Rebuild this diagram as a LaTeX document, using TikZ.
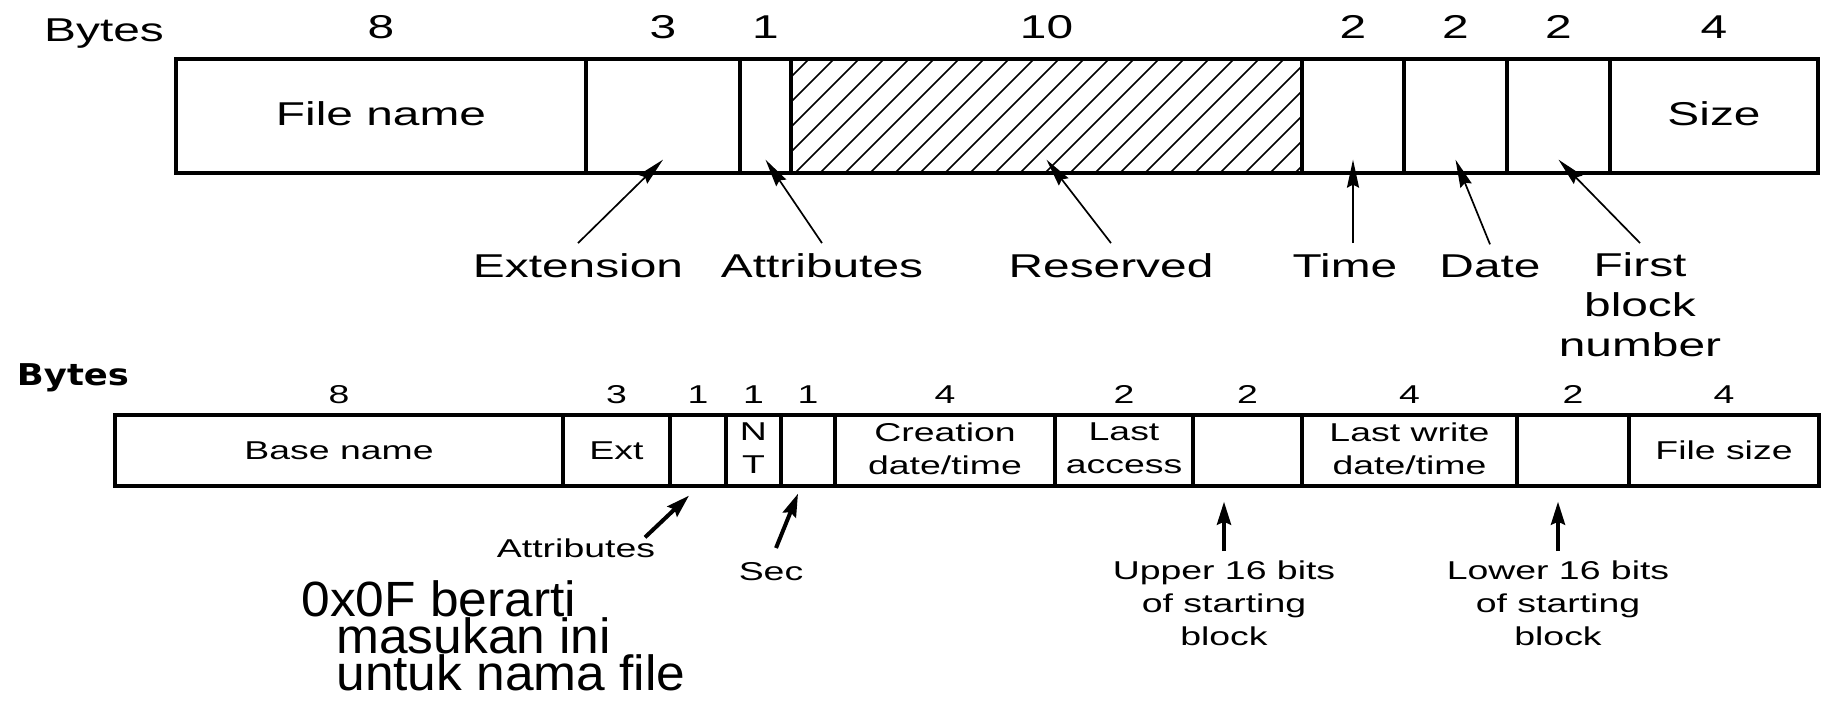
\documentclass[tikz,border=0pt]{standalone}
\usepackage{fontspec}
\setmainfont{Liberation Sans}[FakeStretch=1.04]
\newfontfamily\widesans{Liberation Sans}[FakeStretch=1.45]
\newfontfamily\heavysans{DejaVu Sans}[FakeStretch=1.18]
\usetikzlibrary{arrows.meta,fit,calc}

% lets lines sit closer than their letters are tall
\newcommand\tightlines{\lineskiplimit=-20pt\relax}

\tikzset{
  field/.style={draw,line width=1.65pt,inner sep=0pt},
  bigtext/.style={font=\widesans\fontsize{16.5}{20}\selectfont,inner sep=0pt},
  smalltext/.style={font=\widesans\fontsize{12.9}{16.5}\selectfont,align=center,inner sep=0pt},
  callout/.style={inner sep=0pt,outer sep=5pt,align=center},
  thinarrow/.style={line width=0.85pt,-{Stealth[length=14pt,width=6pt,inset=1.5pt]}},
  thickarrow/.style={line width=2pt,-{Stealth[length=11.5pt,width=7pt,inset=1.5pt]}}
}

\begin{document}
\begin{tikzpicture}[x=0.5pt,y=-0.5pt]
\useasboundingbox (0,0) rectangle (1822,714);

% hatching of the reserved bytes
\begin{scope}
  \clip (791,59) rectangle (1302,173);
  \foreach \x in {670,695,...,1300}
    \draw[line width=0.75pt] (\x,173) -- ++(114,-114);
\end{scope}

% MS-DOS entry
\node[bigtext,anchor=base] (bytes) at (104,41) {Bytes};
\node[field,fit={(176,59) (586,173)}] (fname) {};
\node[field,fit={(586,59) (740,173)}] (ext) {};
\node[field,fit={(740,59) (791,173)}] (attr) {};
\node[field,fit={(791,59) (1302,173)}] (resv) {};
\node[field,fit={(1302,59) (1404,173)}] (time) {};
\node[field,fit={(1404,59) (1507,173)}] (date) {};
\node[field,fit={(1507,59) (1610,173)}] (first) {};
\node[field,fit={(1610,59) (1818,173)}] (size) {};
\node[bigtext] (fnametxt) at ($(fname)+(0,-2)$) {File name};
\node[bigtext] (sizetxt) at ($(size)+(0,-2)$) {Size};

\foreach \fld/\n in {fname/8,ext/3,attr/1,resv/10,time/2,date/2,first/2,size/4}
  \node[bigtext,anchor=base] at ($(\fld.north)+(0,-19)$) {\n};

\node[bigtext,callout,anchor=base] (extlbl) at (578,277) {Extension};
\node[bigtext,callout,anchor=base] (attrlbl) at (822,277) {Attributes};
\node[bigtext,callout,anchor=base] (resvlbl) at (1111,277) {Reserved};
\node[bigtext,callout,anchor=base] (timelbl) at (1345,277) {Time};
\node[bigtext,callout,anchor=base] (datelbl) at (1490,277) {Date};
\node[bigtext,callout,anchor=north] (firstlbl) at (1640,243) {First\\block\\number};

\draw[thinarrow] (extlbl.north) -- ($(ext.south)+(0,-15)$);
\draw[thinarrow] (attrlbl.north) -- ($(attr.south)+(0,-15)$);
\draw[thinarrow] (resvlbl.north) -- ($(resv.south)+(0,-15)$);
\draw[thinarrow] (timelbl.north -| time.south) -- ($(time.south)+(0,-15)$);
\draw[thinarrow] (datelbl.north) -- ($(date.south)+(0,-15)$);
\draw[thinarrow] (firstlbl.north) -- ($(first.south)+(0,-15)$);

% Windows 98 entry
\node[font=\heavysans\bfseries\fontsize{15}{18}\selectfont,anchor=base] (bytes2) at (73,385) {Bytes};
\node[field,fit={(115,415) (563,486)}] (base) {};
\node[field,fit={(563,415) (670,486)}] (ext2) {};
\node[field,fit={(670,415) (726,486)}] (attr2) {};
\node[field,fit={(726,415) (781,486)}] (nt) {};
\node[field,fit={(781,415) (835,486)}] (sec) {};
\node[field,fit={(835,415) (1055,486)}] (crea) {};
\node[field,fit={(1055,415) (1193,486)}] (acc) {};
\node[field,fit={(1193,415) (1302,486)}] (hi) {};
\node[field,fit={(1302,415) (1517,486)}] (wri) {};
\node[field,fit={(1517,415) (1629,486)}] (lo) {};
\node[field,fit={(1629,415) (1819,486)}] (fsize) {};

\node[smalltext] (basetxt) at (base) {Base name};
\node[smalltext] (ext2txt) at (ext2) {Ext};
\node[smalltext] (nttxt) at ($(nt)+(0,-2)$) {N\\T};
\node[smalltext] (creatxt) at ($(crea)+(0,-2)$) {Creation\\date/time};
\node[smalltext] (acctxt) at ($(acc)+(0,-2)$) {Last\\access};
\node[smalltext] (writxt) at ($(wri)+(0,-2)$) {Last write\\date/time};
\node[smalltext] (fsizetxt) at (fsize) {File size};

\foreach \fld/\n in {base/8,ext2/3,attr2/1,nt/1,sec/1,crea/4,acc/2,hi/2,wri/4,lo/2,fsize/4}
  \node[smalltext,anchor=base] at ($(\fld.north)+(0,-10)$) {\n};

\node[smalltext,callout,anchor=base] (attr2lbl) at (576,557) {Attributes};
\node[smalltext,callout,anchor=base] (seclbl) at (771,580) {Sec};
\node[smalltext,callout,anchor=north] (hilbl) at (1224,551) {Upper 16 bits\\of starting\\block};
\node[smalltext,callout,anchor=north] (lolbl) at (1558,551) {Lower 16 bits\\of starting\\block};

\draw[thickarrow] ($(attr2lbl.north east)+(-20,9)$) -- ($(attr2.south)+(-9,8)$);
\draw[thickarrow] ($(seclbl.north)+(5,-4)$) -- ($(sec.south)+(-10,6)$);
\draw[thickarrow] (hilbl.north) -- ($(hilbl.north |- hi.south)+(0,14)$);
\draw[thickarrow] (lolbl.north) -- ($(lolbl.north |- lo.south)+(0,14)$);

\node[font=\fontsize{24.75}{18.5}\selectfont\tightlines,align=left,inner sep=0pt,anchor=north west] (note) at (301,580)
  {0x0F berarti\\\hspace*{17.5pt}masukan ini\\\hspace*{17.5pt}untuk nama file};
\end{tikzpicture}
\end{document}
